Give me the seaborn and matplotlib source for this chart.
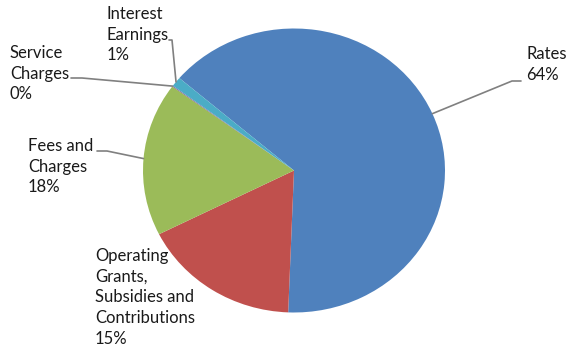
import numpy as np
import matplotlib
matplotlib.use("Agg")
import matplotlib.pyplot as plt
import seaborn as sns

categories = ["Rates", "Operating\nGrants,\nSubsidies and\nContributions",
              "Fees and\nCharges", "Service\nCharges", "Interest\nEarnings"]
values = [64.4, 17.0, 17.5, 0.1, 1.1]
pct_labels = ["64%", "15%", "18%", "0%", "1%"]
colors = ["#4F81BD", "#C0504D", "#9BBB59", "#8064A2", "#4BACC6"]

sns.set_theme(style="white")
plt.rcParams["font.family"] = ["Lato", "DejaVu Sans"]

W, H = 567, 349
fig = plt.figure(figsize=(W / 100, H / 100), dpi=100)
ax = fig.add_axes([0, 0, 1, 1])

cx, cy, rx, ry = 294, 170.5, 151, 142

def px(x, y):
    return ((x - cx) / rx, (cy - y) / ry)

wedges, _ = ax.pie(values, colors=colors, startangle=139.4, counterclock=False,
                   radius=1, center=(0, 0), wedgeprops=dict(linewidth=0))
ax.set_aspect("auto")
ax.set_xlim((0 - cx) / rx, (W - cx) / rx)
ax.set_ylim((cy - H) / ry, cy / ry)
ax.axis("off")

def anchor(w):
    t = np.deg2rad((w.theta1 + w.theta2) / 2)
    return np.cos(t), np.sin(t)

fs = 12
lc = "#808080"
tk = dict(fontsize=fs, color="#1a1a1a", ha="left", va="top", linespacing=1.36)

# Rates
ax.text(*px(526, 46), categories[0] + "\n" + pct_labels[0], **tk)
ax0 = anchor(wedges[0])
ax.plot([ax0[0], px(512, 81)[0], px(521, 81)[0]],
        [ax0[1], px(512, 81)[1], px(521, 81)[1]], color=lc, lw=1.2)

# Operating grants
ax.text(*px(95, 248), categories[1] + "\n" + pct_labels[1], **tk)

# Fees
ax.text(*px(28, 138), categories[2] + "\n" + pct_labels[2], **tk)
a2 = anchor(wedges[2])
ax.plot([px(97, 151)[0], px(107, 151)[0], a2[0]],
        [px(97, 151)[1], px(107, 151)[1], a2[1]], color=lc, lw=1.2)

# Service charges
ax.text(*px(10, 45), categories[3] + "\n" + pct_labels[3], **tk)
a3 = anchor(wedges[3])
ax.plot([px(71, 78)[0], px(82, 78)[0], a3[0]],
        [px(71, 78)[1], px(82, 78)[1], a3[1]], color=lc, lw=1.2)

# Interest earnings
ax.text(*px(107, 6), categories[4] + "\n" + pct_labels[4], **tk)
a4 = anchor(wedges[4])
ax.plot([px(169, 40)[0], px(172, 40)[0], a4[0]],
        [px(169, 40)[1], px(172, 40)[1], a4[1]], color=lc, lw=1.2)

fig.savefig("out.png", dpi=100)
